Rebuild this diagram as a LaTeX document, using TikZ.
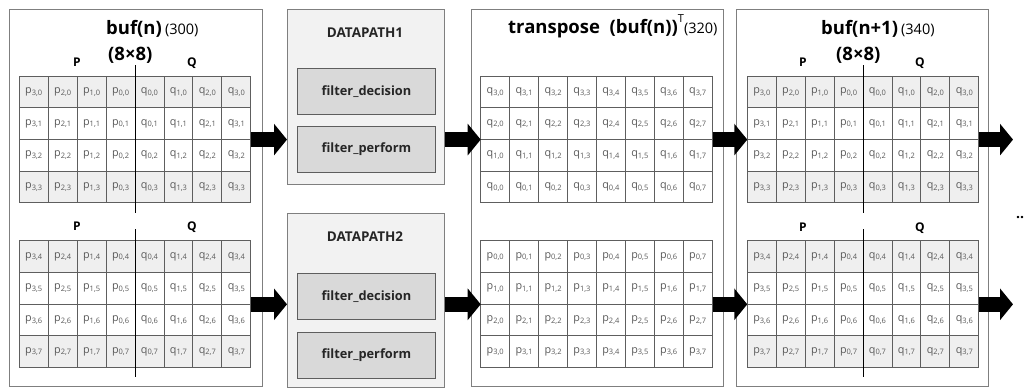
\documentclass[tikz,border=0pt]{standalone}
\usepackage{fontspec}
\setmainfont{Open Sans}
\usetikzlibrary{arrows.meta}

\definecolor{frame}{HTML}{7F7F7F}
\definecolor{gridline}{HTML}{5E5E5E}
\definecolor{shade}{HTML}{EFEFEF}
\definecolor{dpfill}{HTML}{F2F2F2}
\definecolor{fnfill}{HTML}{D9D9D9}
\definecolor{celltext}{HTML}{5A5A5A}

% cell label: letter with a small lowered index
\newcommand\cl[2]{#1\raisebox{-0.3ex}{\fontsize{7.5}{8}\selectfont #2}}

\tikzset{
  panel/.style={draw=frame, line width=0.9pt, fill=white, inner sep=0, anchor=north west},
  dpbox/.style={draw=frame, line width=0.9pt, fill=dpfill, inner sep=0, anchor=north west,
                minimum width=157pt},
  fnbox/.style={draw=gridline, line width=0.9pt, fill=fnfill, inner sep=0, anchor=north west,
                minimum width=138pt, minimum height=46pt,
                font=\bfseries\fontsize{12.8}{14}\selectfont, text=black!85},
  dplabel/.style={font=\bfseries\fontsize{13.5}{15}\selectfont, text=black!85},
  gridframe/.style={draw=none, inner sep=0, minimum width=231.4pt, minimum height=126.8pt,
                    anchor=north west},
  cell/.style={draw=gridline, line width=0.8pt, minimum width=28.93pt, minimum height=31.7pt,
               inner sep=0, font=\fontsize{10.8}{11}\selectfont, text=celltext},
  divider/.style={draw=black, line width=1.2pt},
  halflabel/.style={font=\bfseries\fontsize{12}{13}\selectfont, anchor=base},
  bigtitle/.style={font=\bfseries\fontsize{18.5}{21}\selectfont, anchor=base west, inner sep=0},
  smalltitle/.style={font=\mdseries\fontsize{15}{17}\selectfont},
  bigarrow/.style={draw=black, line width=15pt, -{Triangle[length=13pt,width=31pt]}},
}

% 8x4 buffer block: columns p3..p0 | q0..q3, rows #4..#4+3
\newcommand\bufgrid[4]{%
  \node[gridframe] (#3) at (#1,#2) {};
  \foreach \c/\lab [count=\k from 0] in {p/3,p/2,p/1,p/0,q/0,q/1,q/2,q/3}{
    \foreach \r/\f in {0/shade,1/white,2/white,3/shade}{
      \pgfmathtruncatemacro\j{#4+\r}
      \node[cell, fill=\f] (#3-\k-\r) at (#1+28.93*\k+14.465, #2+31.7*\r+15.85) {\cl{\c}{\lab,\j}};
    }
  }
}

% 8x4 transposed block: rows given as list of first indices
\newcommand\trgrid[5]{%
  \node[gridframe] (#3) at (#1,#2) {};
  \foreach \r/\i in {#5}{
    \foreach \j in {0,...,7}{
      \node[cell, fill=white] (#3-\j-\r) at (#1+28.93*\j+14.465, #2+31.7*\r+15.85) {\cl{#4}{\i,\j}};
    }
  }
}

\newcommand\sm[1]{{\mdseries\fontsize{14.5}{17}\selectfont #1}}

\begin{document}
\begin{tikzpicture}[x=1pt,y=-1pt]
\useasboundingbox (0,0) rectangle (1027,388);
\fill[white] (0,0) rectangle (1027,388);

% ---------- panels ----------
\node[panel, minimum width=253pt, minimum height=377pt] (bufn)  at (9,9)   {};
\node[dpbox, minimum height=175pt]                      (dp1)   at (287,9) {};
\node[dpbox, minimum height=174pt]                      (dp2)   at (287,213) {};
\node[panel, minimum width=252pt, minimum height=377pt] (tr)    at (471,9) {};
\node[panel, minimum width=252pt, minimum height=377pt] (bufn1) at (736,9) {};

% ---------- buf(n) ----------
\node[bigtitle] (t1) at (106,34) {buf(n)\,\sm{(300)}};
\node[bigtitle] (s1) at (108,60) {(8×8)};
\bufgrid{19.3}{76}{g1t}{0}
\bufgrid{19.3}{240.7}{g1b}{4}
\node[halflabel] (p1t) at (77,66)  {P};
\node[halflabel] (q1t) at (192,66) {Q};
\node[halflabel] (p1b) at (77,230) {P};
\node[halflabel] (q1b) at (192,230) {Q};
\draw[divider] ([yshift=11pt]g1t.north) -- ([yshift=-9.7pt]g1t.south);
\draw[divider] ([yshift=11.7pt]g1b.north) -- ([yshift=-9.5pt]g1b.south);

% ---------- datapaths ----------
\node[dplabel] (dpl1) at (365,33) {DATAPATH1};
\node[fnbox] (fd1) at (297,68)  {filter\_decision};
\node[fnbox] (fp1) at (297,126) {filter\_perform};
\node[dplabel] (dpl2) at (365,236.7) {DATAPATH2};
\node[fnbox] (fd2) at (297,273) {filter\_decision};
\node[fnbox] (fp2) at (297,332) {filter\_perform};

% ---------- transpose ----------
\node[bigtitle] (t2) at (508,33) {transpose\ \ (buf(n))\raisebox{1.0ex}{\mdseries\fontsize{11}{11}\selectfont T}\sm{(320)}};
\trgrid{480.7}{76}{g2t}{q}{0/3,1/2,2/1,3/0}
\trgrid{480.7}{240.7}{g2b}{p}{0/0,1/1,2/2,3/3}

% ---------- buf(n+1) ----------
\node[bigtitle] (t3) at (821,34) {buf(n+1)\,\sm{(340)}};
\node[bigtitle] (s3) at (836,60) {(8×8)};
\bufgrid{747.3}{76}{g3t}{0}
\bufgrid{747.3}{240.7}{g3b}{4}
\node[halflabel] (p3t) at (803,66)  {P};
\node[halflabel] (q3t) at (920,66)  {Q};
\node[halflabel] (p3b) at (803,231) {P};
\node[halflabel] (q3b) at (920,231) {Q};
\draw[divider] ([yshift=11pt]g3t.north) -- ([yshift=-9.7pt]g3t.south);
\draw[divider] ([yshift=11.7pt]g3b.north) -- ([yshift=-9.5pt]g3b.south);

\node[font=\bfseries\fontsize{14}{14}\selectfont] (more) at (1020,218) {..};

% ---------- data flow ----------
\coordinate (out) at (1013,0);
\draw[bigarrow] (g1t.east) -- (g1t.east -| dp1.west);
\draw[bigarrow] (g1b.east) -- (g1b.east -| dp2.west);
\draw[bigarrow] (g2t.west -| dp1.east) -- (g2t.west);
\draw[bigarrow] (g2b.west -| dp2.east) -- (g2b.west);
\draw[bigarrow] (g2t.east) -- (g3t.west);
\draw[bigarrow] (g2b.east) -- (g3b.west);
\draw[bigarrow] (g3t.east) -- (g3t.east -| out);
\draw[bigarrow] (g3b.east) -- (g3b.east -| out);
\end{tikzpicture}
\end{document}
